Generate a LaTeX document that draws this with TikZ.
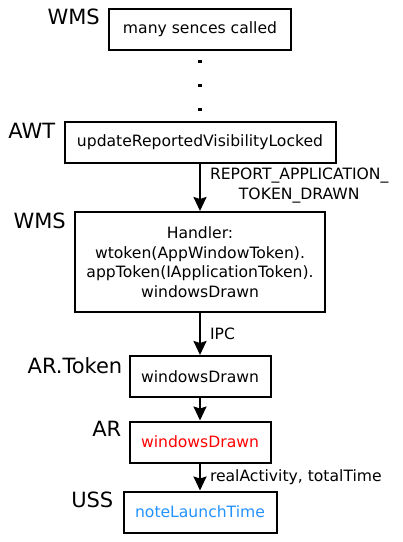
\documentclass[tikz,border=0pt]{standalone}
\usepackage{fontspec}
\setmainfont{DejaVu Sans}
\usetikzlibrary{positioning,arrows.meta}
\definecolor{launchblue}{RGB}{34,146,255}
\tikzstyle{block} = [rectangle, draw, line width=2pt, align=center,
    font=\fontsize{15.6}{19.5}\selectfont, minimum height=41pt, inner sep=0pt]
\tikzstyle{owner} = [anchor=north east, inner sep=0pt,
    font=\fontsize{21}{25}\selectfont]
\tikzstyle{msg} = [right, align=center, inner sep=0pt, xshift=9pt,
    font=\fontsize{15.6}{19.5}\selectfont]
\tikzstyle{arrow} = [-{Stealth[length=14pt,width=13pt,inset=2pt]}, line width=2pt]

\begin{document}
\begin{tikzpicture}[x=1pt, y=1pt, node distance=115pt]
        \useasboundingbox (0,0) rectangle (403,-542);
        % Nodes
        \node (called) [block, minimum width=182pt] at (200,-29.5) {many sences called};
        \node (update) [block, minimum width=271pt, below of=called, yshift=2pt] {updateReportedVisibilityLocked};
        \node (handler) [block, minimum width=250pt, minimum height=100pt, below of=update, yshift=-4.5pt] {Handler:\\ wtoken(AppWindowToken).\\ appToken(IApplicationToken).\\ windowsDrawn};
        \node (token) [block, minimum width=141pt, below of=handler, yshift=0.5pt] {windowsDrawn};
        \node (record) [block, minimum width=141pt, below of=token, yshift=49.5pt, text=red] {windowsDrawn};
        \node (stats) [block, minimum width=153pt, below of=record, yshift=45pt, text=launchblue] {noteLaunchTime};

        % Owners
        \node [owner] at ([xshift=-8pt, yshift=-1pt]called.north west) {WMS};
        \node [owner] at ([xshift=-8pt, yshift=-2pt]update.north west) {AWT};
        \node [owner] at ([xshift=-8pt, yshift=-2pt]handler.north west) {WMS};
        \node [owner] at ([xshift=-6pt, yshift=-2pt]token.north west) {AR.Token};
        \node [owner] at ([xshift=-7pt, yshift=0pt]record.north west) {AR};
        \node [owner] at ([xshift=-9pt, yshift=-1pt]stats.north west) {USS};

        % Dots
        \foreach \y in {60,83.5,107.5}
            \fill (198.3,-\y) rectangle (201.6,-\y-3.3);

        % Arrows
        \draw[arrow] (update) -- node[msg, yshift=2pt]{REPORT\_APPLICATION\_\\ TOKEN\_DRAWN} (handler);
        \draw[arrow] (handler) -- node[msg]{IPC} (token);
        \draw[arrow] (token) -- (record);
        \draw[arrow] (record) -- node[msg]{realActivity, totalTime} (stats);
    \end{tikzpicture}
\end{document}
